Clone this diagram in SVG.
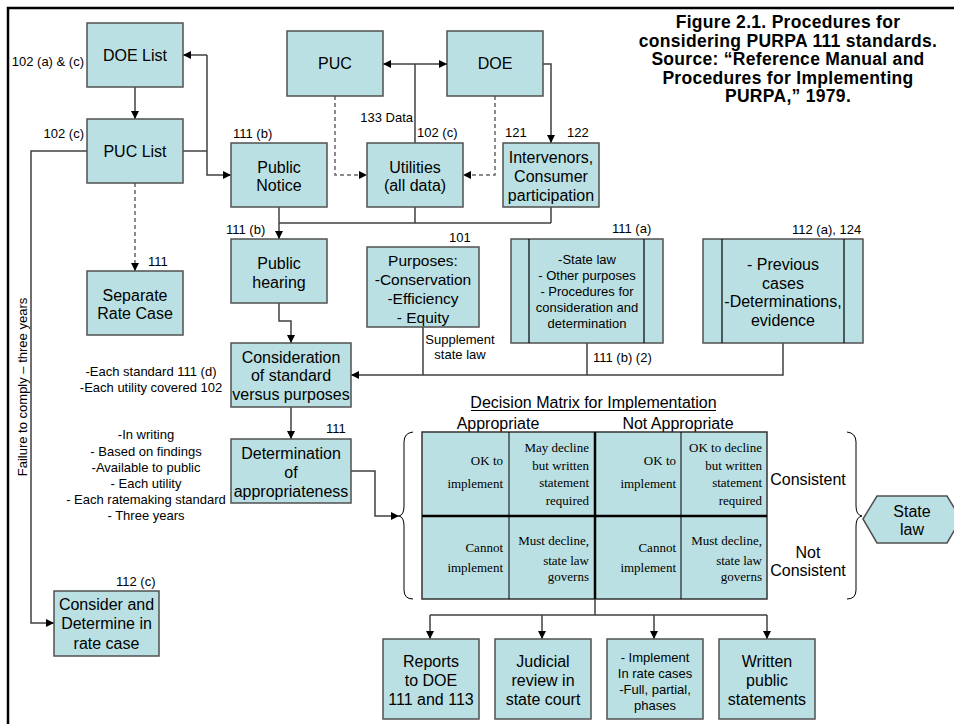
<svg xmlns="http://www.w3.org/2000/svg" width="954" height="724" viewBox="0 0 954 724">
<style>
.node{fill:#BBE0E3;stroke:#505050;stroke-width:1.5}
.t{font-family:"Liberation Sans",Arial,sans-serif;font-size:16px;text-anchor:middle;fill:#000}
.s{font-size:13px}
.l{font-family:"Liberation Sans",Arial,sans-serif;font-size:13px;fill:#000}
.e{text-anchor:end}
.m{text-anchor:middle}
.sf{font-family:"Liberation Serif","Times New Roman",serif;font-size:13px;text-anchor:end;fill:#000}
.title{font-family:"Liberation Sans",Arial,sans-serif;font-size:17.5px;letter-spacing:0.3px;font-weight:bold;text-anchor:middle;fill:#000}
.c{stroke:#404040;stroke-width:1.5;fill:none}
.a{marker-end:url(#ah)}
.d{stroke-dasharray:4 3;stroke:#666}
.thin{stroke:#000;stroke-width:1;fill:none}
</style>
<defs>
<marker id="ah" viewBox="0 0 10 10" refX="10" refY="5" markerWidth="8" markerHeight="8" markerUnits="userSpaceOnUse" orient="auto-start-reverse">
<path d="M0 0 L10 5 L0 10 z" fill="#000"/>
</marker>
</defs>
<rect x="0" y="0" width="954" height="724" fill="#fff"/>
<rect x="8" y="8" width="970" height="740" fill="none" stroke="#000" stroke-width="2.5"/>

<g id="title">
<text class="title" x="788" y="28">Figure 2.1. Procedures for</text>
<text class="title" x="788" y="46.5">considering PURPA 111 standards.</text>
<text class="title" x="788" y="65">Source: “Reference Manual and</text>
<text class="title" x="788" y="83.5">Procedures for Implementing</text>
<text class="title" x="788" y="102">PURPA,” 1979.</text>
</g>

<g id="connectors">
<path class="c a" d="M135 87 V119"/>
<path class="c" d="M183 151 H207"/>
<path class="c a" d="M207 55 V175 H231"/>
<path class="c a" d="M207 55 H183"/>
<path class="c a" d="M415 64 H383"/>
<path class="c a" d="M415 64 H447"/>
<path class="c" d="M415 64 V143"/>
<path class="c d a" d="M335 96 V175 H367"/>
<path class="c d a" d="M495 96 V175 H463"/>
<path class="c a" d="M543 64 H551 V143"/>
<path class="c" d="M415 207 V223 M551 207 V223 M279 223 H551"/>
<path class="c a" d="M279 207 V239"/>
<path class="c a" d="M279 303 V321 H291 V343"/>
<path class="c a" d="M291 407 V439"/>
<path class="c" d="M423 327 V375 M587 343 V375"/>
<path class="c a" d="M783 343 V375 H351"/>
<path class="c a" d="M351 471 H375 V516 H399"/>
<path class="c a" d="M87 151 H31 V623 H54"/>
<path class="c d a" d="M135 183 V271"/>
<path class="c" d="M595 599 V615 M430 615 H767"/>
<path class="c a" d="M430 615 V639"/>
<path class="c a" d="M542 615 V639"/>
<path class="c a" d="M654 615 V639"/>
<path class="c a" d="M767 615 V639"/>
</g>

<g id="labels">
<text class="l e" x="84" y="65.5">102 (a) &amp; (c)</text>
<text class="l e" x="84" y="137.5">102 (c)</text>
<text class="l" x="233" y="137.5">111 (b)</text>
<text class="l" x="226" y="233.5">111 (b)</text>
<text class="l e" x="413" y="121.5">133 Data</text>
<text class="l" x="417" y="136.5">102 (c)</text>
<text class="l" x="505" y="136.5">121</text>
<text class="l" x="567" y="136.5">122</text>
<text class="l" x="148" y="265.5">111</text>
<text class="l" x="449" y="241.5">101</text>
<text class="l" x="612" y="232.5">111 (a)</text>
<text class="l" x="792" y="233.5">112 (a), 124</text>
<text class="l m" x="460" y="343.5">Supplement</text>
<text class="l m" x="460" y="358.5">state law</text>
<text class="l" x="593" y="361.5">111 (b) (2)</text>
<text class="l" x="326" y="432.5">111</text>
<text class="l m" x="151" y="375.5">-Each standard 111 (d)</text>
<text class="l m" x="151" y="391.5">-Each utility covered 102</text>
<text class="l m" x="146" y="438.5">-In writing</text>
<text class="l m" x="146" y="455.5">- Based on findings</text>
<text class="l m" x="146" y="471.5">-Available to public</text>
<text class="l m" x="146" y="487.5">- Each utility</text>
<text class="l m" x="146" y="503.5">- Each ratemaking standard</text>
<text class="l m" x="146" y="519.5">- Three years</text>
<text class="l" x="116" y="585.5">112 (c)</text>
<text class="l m" transform="translate(27,387) rotate(-90)">Failure to comply – three years</text>
</g>

<g id="doe-list"><rect class="node" x="87" y="23" width="96" height="64"/><text class="t" x="135" y="61">DOE List</text></g>
<g id="puc-list"><rect class="node" x="87" y="119" width="96" height="64"/><text class="t" x="135" y="157">PUC List</text></g>
<g id="puc"><rect class="node" x="287" y="31" width="96" height="65"/><text class="t" x="335" y="69">PUC</text></g>
<g id="doe"><rect class="node" x="447" y="31" width="96" height="65"/><text class="t" x="495" y="69">DOE</text></g>
<g id="public-notice"><rect class="node" x="231" y="143" width="96" height="64"/><text class="t" x="279" y="172.5">Public</text><text class="t" x="279" y="191">Notice</text></g>
<g id="utilities"><rect class="node" x="367" y="143" width="96" height="64"/><text class="t" x="415" y="172.5">Utilities</text><text class="t" x="415" y="191">(all data)</text></g>
<g id="intervenors"><rect class="node" x="503" y="143" width="96" height="64"/><text class="t" x="551" y="163">Intervenors,</text><text class="t" x="551" y="182">Consumer</text><text class="t" x="551" y="201">participation</text></g>
<g id="public-hearing"><rect class="node" x="231" y="239" width="96" height="64"/><text class="t" x="279" y="269">Public</text><text class="t" x="279" y="288">hearing</text></g>
<g id="separate-rate-case"><rect class="node" x="87" y="271" width="96" height="64"/><text class="t" x="135" y="301">Separate</text><text class="t" x="135" y="319">Rate Case</text></g>
<g id="purposes"><rect class="node" x="367" y="247" width="112" height="80"/>
<text class="t" style="font-size:15.5px" x="423" y="266">Purposes:</text>
<text class="t" style="font-size:15.5px" x="423" y="285">-Conservation</text>
<text class="t" style="font-size:15.5px" x="423" y="304">-Efficiency</text>
<text class="t" style="font-size:15.5px" x="423" y="323">- Equity</text></g>
<g id="state-law-box"><rect class="node" x="511" y="239" width="152" height="104"/>
<path class="node" d="M529 239 V343 M644 239 V343" style="stroke:#000;stroke-width:1.2"/>
<text class="t s" x="587" y="263.5">-State law</text>
<text class="t s" x="587" y="279.5">- Other purposes</text>
<text class="t s" x="587" y="295.5">- Procedures for</text>
<text class="t s" x="587" y="311.5">consideration and</text>
<text class="t s" x="587" y="327.5">determination</text></g>
<g id="previous-cases"><rect class="node" x="703" y="239" width="160" height="104"/>
<path class="node" d="M722 239 V343 M844 239 V343" style="stroke:#000;stroke-width:1.2"/>
<text class="t" x="783" y="270">- Previous</text>
<text class="t" x="783" y="289">cases</text>
<text class="t" x="783" y="307">-Determinations,</text>
<text class="t" x="783" y="326">evidence</text></g>
<g id="consideration"><rect class="node" x="231" y="343" width="120" height="64"/><text class="t" x="291" y="363">Consideration</text><text class="t" x="291" y="381">of standard</text><text class="t" x="291" y="400">versus purposes</text></g>
<g id="determination"><rect class="node" x="231" y="439" width="120" height="64"/><text class="t" x="291" y="459">Determination</text><text class="t" x="291" y="478">of</text><text class="t" x="291" y="497">appropriateness</text></g>
<g id="consider-determine"><rect class="node" x="54" y="591" width="105" height="65"/><text class="t" x="106.5" y="610">Consider and</text><text class="t" x="106.5" y="629">Determine in</text><text class="t" x="106.5" y="649">rate case</text></g>

<g id="decision-matrix">
<text class="t" x="593.5" y="407.5">Decision Matrix for Implementation</text>
<path d="M471 410.5 H716" stroke="#000" stroke-width="1"/>
<text class="t" x="498" y="428.5">Appropriate</text>
<text class="t" x="678" y="428.5">Not Appropriate</text>
<rect class="node" x="422" y="432" width="345" height="167" style="stroke:#333"/>
<path d="M509 432 V599 M681 432 V599" stroke="#000" stroke-width="1"/>
<path d="M595 432 V599 M422 516 H767" stroke="#000" stroke-width="2.5"/>
<text class="sf" x="503" y="465">OK to</text><text class="sf" x="503" y="488">implement</text>
<text class="sf" x="589" y="452">May decline</text><text class="sf" x="589" y="470">but written</text><text class="sf" x="589" y="487">statement</text><text class="sf" x="589" y="505">required</text>
<text class="sf" x="676" y="465">OK to</text><text class="sf" x="676" y="488">implement</text>
<text class="sf" x="762" y="452">OK to decline</text><text class="sf" x="762" y="470">but written</text><text class="sf" x="762" y="487">statement</text><text class="sf" x="762" y="505">required</text>
<text class="sf" x="503" y="552">Cannot</text><text class="sf" x="503" y="572">implement</text>
<text class="sf" x="589" y="545">Must decline,</text><text class="sf" x="589" y="565">state law</text><text class="sf" x="589" y="581">governs</text>
<text class="sf" x="676" y="552">Cannot</text><text class="sf" x="676" y="572">implement</text>
<text class="sf" x="762" y="545">Must decline,</text><text class="sf" x="762" y="565">state law</text><text class="sf" x="762" y="581">governs</text>
<path class="thin" d="M413 432 Q404 433 404 442 L404 506 Q404 515 399 516 Q404 517 404 526 L404 590 Q404 599 413 599"/>
<path class="thin" d="M847 432 Q856 433 856 442 L856 506 Q856 515 862 516 Q856 517 856 526 L856 590 Q856 599 847 599"/>
<text class="t" x="808" y="484.5">Consistent</text>
<text class="t" x="808" y="557.5">Not</text>
<text class="t" x="808" y="575.5">Consistent</text>
</g>
<g id="state-law"><polygon class="node" points="863,519 877,496 947,496 961,519 947,543 877,543"/><text class="t" x="912" y="516.5">State</text><text class="t" x="912" y="534.5">law</text></g>

<g id="reports"><rect class="node" x="383" y="639" width="96" height="80"/><text class="t" x="431" y="666.5">Reports</text><text class="t" x="431" y="685.5">to DOE</text><text class="t" x="431" y="704.5">111 and 113</text></g>
<g id="judicial"><rect class="node" x="495" y="639" width="96" height="80"/><text class="t" x="543" y="666.5">Judicial</text><text class="t" x="543" y="685.5">review in</text><text class="t" x="543" y="704.5">state court</text></g>
<g id="implement"><rect class="node" x="607" y="639" width="96" height="80"/><text class="t s" x="655" y="661.5">- Implement</text><text class="t s" x="655" y="677.5">In rate cases</text><text class="t s" x="655" y="694">-Full, partial,</text><text class="t s" x="655" y="710">phases</text></g>
<g id="written"><rect class="node" x="719" y="639" width="96" height="80"/><text class="t" x="767" y="666.5">Written</text><text class="t" x="767" y="685.5">public</text><text class="t" x="767" y="704.5">statements</text></g>
</svg>
